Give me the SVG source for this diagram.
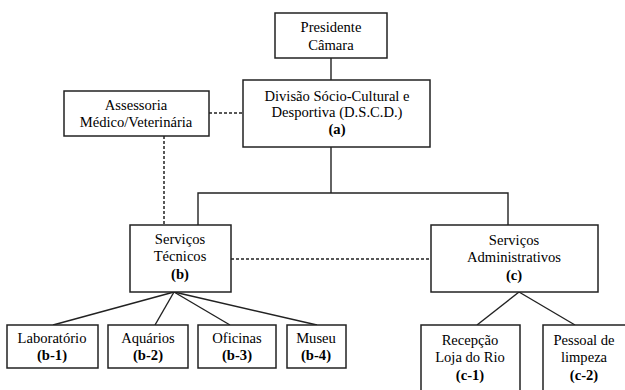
<svg xmlns="http://www.w3.org/2000/svg" width="625" height="390" viewBox="0 0 625 390">
<style>
.box{fill:#fff;stroke:#222;stroke-width:1.5}
.ln{fill:none;stroke:#222;stroke-width:1.4}
.dash{fill:none;stroke:#222;stroke-width:1.5;stroke-dasharray:3,2}
text{font-family:"Liberation Serif","Times New Roman",serif;font-size:14.6px;fill:#000;text-anchor:middle}
.b{font-weight:bold}
</style>
<rect width="625" height="390" fill="#fff"/>
<g id="connectors">
<line class="ln" x1="331" y1="58" x2="331" y2="80"/>
<polyline class="ln" points="331,147 331,193"/>
<polyline class="ln" points="198,225 198,193 508,193 508,225"/>
<line class="dash" x1="209" y1="113" x2="243" y2="113"/>
<line class="dash" x1="164" y1="136" x2="164" y2="225"/>
<line class="dash" x1="231" y1="259" x2="431" y2="259"/>
<line class="ln" x1="174" y1="292" x2="53" y2="325"/>
<line class="ln" x1="174" y1="292" x2="155" y2="325"/>
<line class="ln" x1="174" y1="292" x2="230" y2="325"/>
<line class="ln" x1="174" y1="292" x2="317" y2="325"/>
<line class="ln" x1="519" y1="292" x2="477" y2="325"/>
<line class="ln" x1="519" y1="292" x2="575" y2="325"/>
</g>
<g id="presidente">
<rect class="box" x="275" y="13" width="112" height="45"/>
<text x="331" y="32">Presidente</text>
<text x="331" y="50">Câmara</text>
</g>
<g id="dscd">
<rect class="box" x="243" y="80" width="187" height="67"/>
<text x="337" y="101">Divisão Sócio-Cultural e</text>
<text x="337" y="117">Desportiva (D.S.C.D.)</text>
<text x="337" y="134" class="b">(a)</text>
</g>
<g id="assessoria">
<rect class="box" x="64" y="91" width="145" height="45"/>
<text x="136" y="110">Assessoria</text>
<text x="136" y="127">Médico/Veterinária</text>
</g>
<g id="servicos-tecnicos">
<rect class="box" x="130" y="225" width="101" height="67"/>
<text x="180" y="244">Serviços</text>
<text x="180" y="261">Técnicos</text>
<text x="180" y="279" class="b">(b)</text>
</g>
<g id="servicos-administrativos">
<rect class="box" x="431" y="225" width="167" height="67"/>
<text x="514" y="245">Serviços</text>
<text x="514" y="262">Administrativos</text>
<text x="514" y="280" class="b">(c)</text>
</g>
<g id="laboratorio">
<rect class="box" x="7" y="325" width="91" height="43"/>
<text x="52" y="343">Laboratório</text>
<text x="52" y="360" class="b">(b-1)</text>
</g>
<g id="aquarios">
<rect class="box" x="108" y="325" width="80" height="43"/>
<text x="148" y="343">Aquários</text>
<text x="148" y="360" class="b">(b-2)</text>
</g>
<g id="oficinas">
<rect class="box" x="198" y="325" width="78" height="43"/>
<text x="237" y="343">Oficinas</text>
<text x="237" y="360" class="b">(b-3)</text>
</g>
<g id="museu">
<rect class="box" x="287" y="325" width="59" height="43"/>
<text x="316" y="343">Museu</text>
<text x="316" y="360" class="b">(b-4)</text>
</g>
<g id="recepcao">
<rect class="box" x="421" y="325" width="99" height="70"/>
<text x="470" y="345">Recepção</text>
<text x="470" y="362">Loja do Rio</text>
<text x="470" y="380" class="b">(c-1)</text>
</g>
<g id="pessoal">
<rect class="box" x="543" y="325" width="90" height="70"/>
<text x="584" y="345">Pessoal de</text>
<text x="584" y="362">limpeza</text>
<text x="584" y="380" class="b">(c-2)</text>
</g>
</svg>
